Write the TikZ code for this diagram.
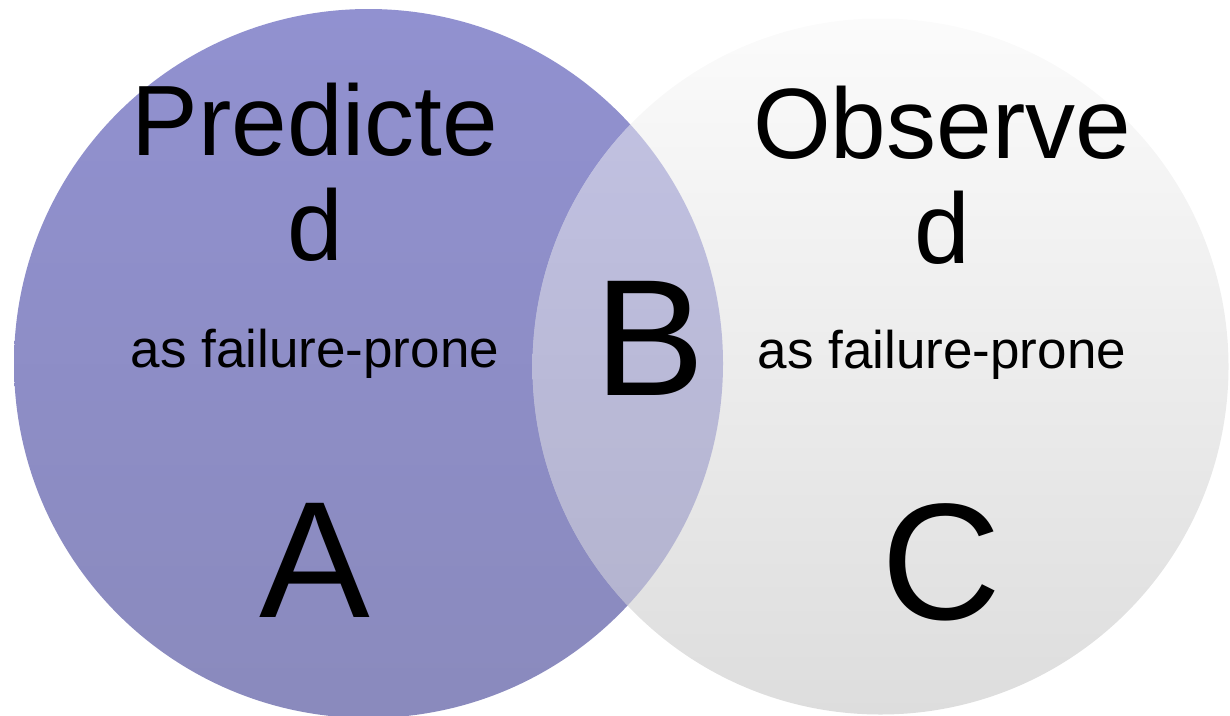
\documentclass[tikz,border=0pt]{standalone}
\usepackage{fontspec}
\setmainfont{Liberation Sans}
\definecolor{predTop}{HTML}{9191D0}
\definecolor{predBot}{HTML}{8A8ABD}
\definecolor{obsTop}{HTML}{FBFBFB}
\definecolor{obsBot}{HTML}{DDDDDD}
\tikzset{
  lbl/.style={anchor=base,inner sep=0pt},
  titletext/.style={lbl,font=\fontsize{100}{100}\selectfont},
  subtext/.style={lbl,font=\fontsize{53}{53}\selectfont},
  lettertext/.style={lbl,font=\fontsize{166}{166}\selectfont}
}
\begin{document}
\begin{tikzpicture}[x=1pt,y=-1pt]
    \useasboundingbox (0,0) rectangle (1230,715);
    \coordinate (pred) at (368.5,363.5);
    \coordinate (obs) at (880.5,366.5);
    \shade[top color=predTop,bottom color=predBot] (pred) circle (354.5);
    \shade[top color=obsTop,bottom color=obsBot] (obs) circle (348);
    \begin{scope}
      \clip (obs) circle (348);
      \shade[top color=predTop,bottom color=predBot,fill opacity=0.52] (pred) circle (354.5);
    \end{scope}
    \foreach \nm/\x/\dy/\word in {pred/315/0/Predicte, obs/942/3/Observe}{
      \node[titletext] (\nm t1) at (\x,155+\dy) {\word};
      \node[titletext] (\nm t2) at (\x,260+\dy) {d};
      \node[subtext] (\nm t3) at (\x,367+\dy/3) {as failure-prone};}
    \node[lettertext] (A) at (315,617) {A};
    \node[lettertext] (B) at (650,395) {B};
    \node[lettertext] (C) at (941,619) {C};
  \end{tikzpicture}
\end{document}
